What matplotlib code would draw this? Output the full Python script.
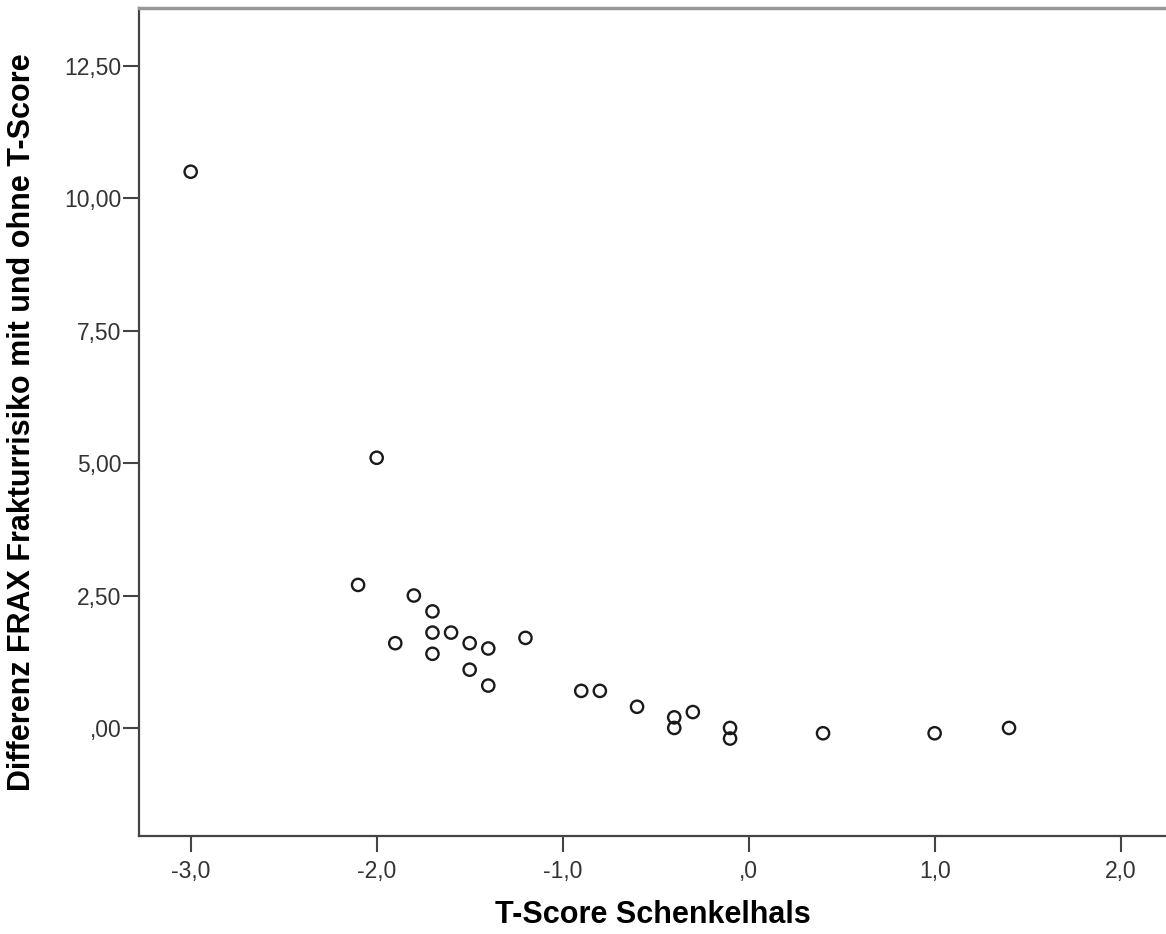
import matplotlib
matplotlib.use('Agg')
import matplotlib.pyplot as plt

plt.rcParams['font.family'] = ['Liberation Sans', 'DejaVu Sans']

# T-Score Schenkelhals vs. Differenz FRAX
t_score = [-3.0, -2.0, -2.1, -1.8, -1.7, -1.9, -1.7, -1.6, -1.5, -1.4,
           -1.7, -1.5, -1.4, -1.2, -0.9, -0.8, -0.6, -0.4, -0.4, -0.3,
           -0.1, -0.1, 0.4, 1.0, 1.4]
diff_frax = [10.5, 5.1, 2.7, 2.5, 2.2, 1.6, 1.8, 1.8, 1.6, 1.5,
             1.4, 1.1, 0.8, 1.7, 0.7, 0.7, 0.4, 0.2, 0.0, 0.3,
             0.0, -0.2, -0.1, -0.1, 0.0]

xticks = [-3.0, -2.0, -1.0, 0.0, 1.0, 2.0]
xticklabels = ['-3,0', '-2,0', '-1,0', ',0', '1,0', '2,0']
yticks = [0.0, 2.5, 5.0, 7.5, 10.0, 12.5]
yticklabels = [',00', '2,50', '5,00', '7,50', '10,00', '12,50']

fig = plt.figure(figsize=(11.66, 9.34), dpi=100)
ax = fig.add_axes([0.1192, 0.1049, 0.8808, 0.8865])

ax.scatter(t_score, diff_frax, s=78, facecolors='none', edgecolors='#1a1a1a',
           linewidths=1.7, zorder=3)

ax.set_xlim(-3.278, 2.244)
ax.set_ylim(-2.04, 13.59)

ax.set_xticks(xticks)
ax.set_xticklabels(xticklabels)
ax.set_yticks(yticks)
ax.set_yticklabels(yticklabels)

ax.tick_params(direction='out', length=11.5, width=1.5, color='#444444',
               labelsize=16.5, labelcolor='#333333')
ax.tick_params(axis='y', pad=1)
ax.tick_params(axis='x', pad=6)

for side in ['left', 'bottom']:
    ax.spines[side].set_color('#444444')
    ax.spines[side].set_linewidth(1.6)
ax.spines['top'].set_color('#999999')
ax.spines['top'].set_linewidth(2.5)
ax.spines['right'].set_visible(False)

ax.set_xlabel('T-Score Schenkelhals', fontsize=22, fontweight='bold')
ax.set_ylabel('Differenz FRAX Frakturrisiko mit und ohne T-Score',
              fontsize=22, fontweight='bold')
ax.xaxis.set_label_coords(0.5, -0.077)
ax.yaxis.set_label_coords(-0.099, 0.5)

fig.savefig('out.png', dpi=100)
